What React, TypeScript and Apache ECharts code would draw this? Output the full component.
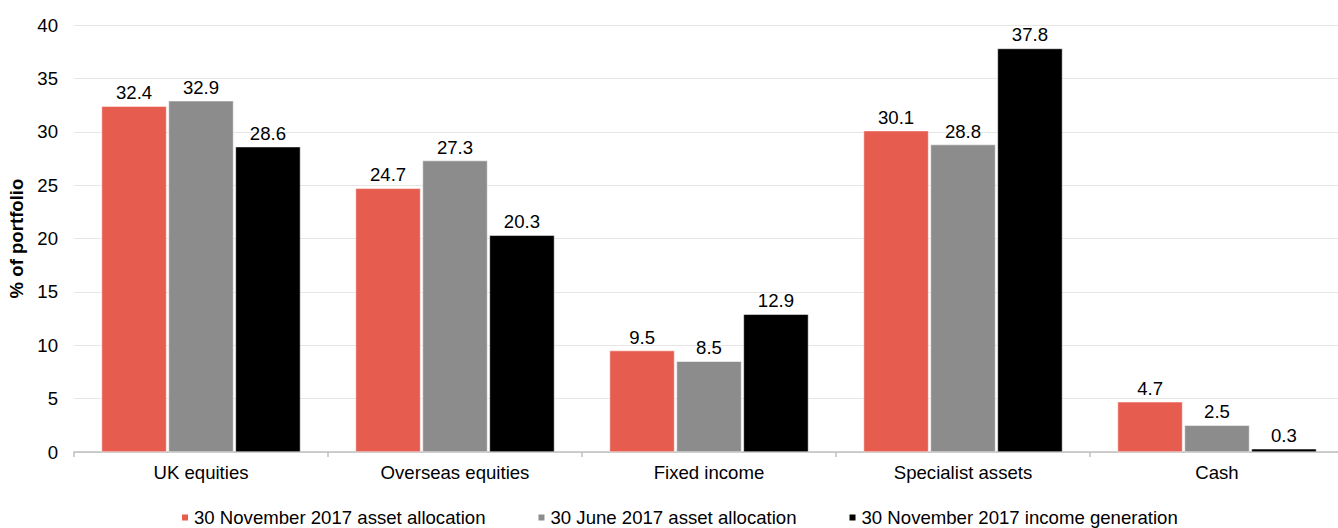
import React, { useEffect, useRef } from "react";
import * as echarts from "echarts";

const categories = ["UK equities", "Overseas equities", "Fixed income", "Specialist assets", "Cash"];
const nov2017Allocation = [32.4, 24.7, 9.5, 30.1, 4.7];
const jun2017Allocation = [32.9, 27.3, 8.5, 28.8, 2.5];
const nov2017Income = [28.6, 20.3, 12.9, 37.8, 0.3];
const seriesNames = [
  "30 November 2017 asset allocation",
  "30 June 2017 asset allocation",
  "30 November 2017 income generation",
];
const colors = ["#E65C4F", "#8C8C8C", "#000000"];

export default function App() {
  const ref = useRef<HTMLDivElement>(null);
  useEffect(() => {
    document.body.style.margin = "0";
    if (!ref.current) return;
    const chart = echarts.init(ref.current, null, { renderer: "svg" });
    const font = "Liberation Sans, Arial, sans-serif";
    const fs = 18.6;
    const dataSets = [nov2017Allocation, jun2017Allocation, nov2017Income];
    chart.setOption({
      animation: false,
      textStyle: { fontFamily: font },
      grid: {
        left: 74,
        width: 1270,
        top: 25,
        bottom: 76,
        containLabel: false,
        outerBoundsMode: "none",
      },
      legend: {
        top: 508,
        left: 180,
        padding: 0,
        itemWidth: 8,
        itemHeight: 8,
        itemGap: 51,
        icon: "rect",
        textStyle: { fontSize: fs, color: "#000", fontFamily: font },
        data: seriesNames,
      },
      xAxis: {
        type: "category",
        data: categories,
        axisLine: { lineStyle: { color: "#BFBFBF", width: 1.5 } },
        axisTick: { show: true, length: 5, lineStyle: { color: "#BFBFBF", width: 1.5 } },
        axisLabel: { fontSize: fs, color: "#000", margin: 11, fontFamily: font },
      },
      yAxis: {
        type: "value",
        min: 0,
        max: 40,
        interval: 5,
        name: "% of portfolio",
        nameLocation: "middle",
        nameGap: 42,
        nameTextStyle: { fontSize: fs, fontWeight: "bold", color: "#000", fontFamily: font },
        axisLine: { show: false },
        axisTick: { show: false },
        axisLabel: { fontSize: fs, color: "#000", margin: 16, fontFamily: font },
        splitLine: { lineStyle: { color: "#E6E6E6", width: 1 } },
      },
      series: dataSets.map((d, i) => ({
        name: seriesNames[i],
        type: "bar",
        data: d,
        barWidth: 65,
        barGap: "3%",
        itemStyle: { color: colors[i], borderColor: "#fff", borderWidth: 0.5 },
        label: {
          show: true,
          position: "top",
          distance: 4,
          fontSize: fs,
          color: "#000",
          fontFamily: font,
        },
      })),
    });
    return () => chart.dispose();
  }, []);
  return <div ref={ref} style={{ width: 1338, height: 528 }} />;
}
